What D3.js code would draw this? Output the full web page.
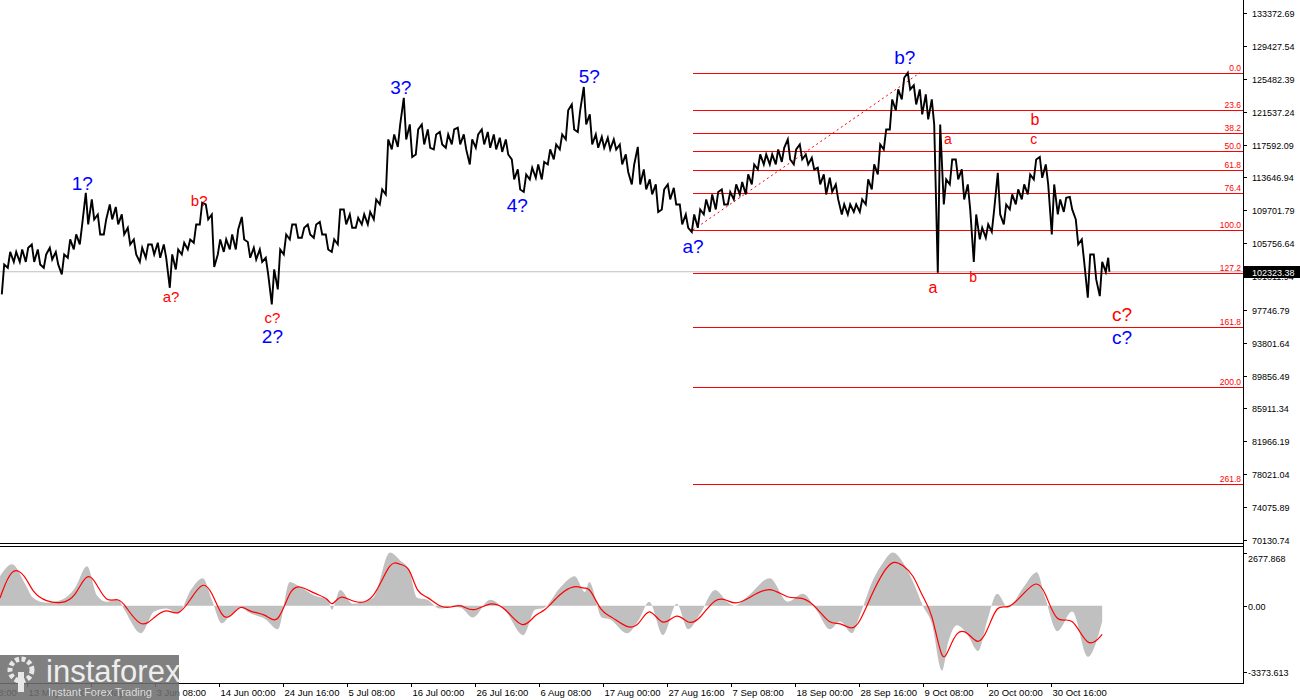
<!DOCTYPE html>
<html><head><meta charset="utf-8">
<script src="https://cdn.jsdelivr.net/npm/d3@7/dist/d3.min.js"></script>
<style>body{margin:0;background:#fff}svg{display:block}</style>
</head><body>
<svg id="c" width="1300" height="700"></svg>
<script>
// ---- data (prices in thousands USD, one entry per day from 8 May 2025 12:00) ----
const startDate = "2025-05-08T12:00:00Z";
const dailyHigh = [
103.2,104.7,104.7,105.0,105.2,105.6,105.0,104.4,105.2,104.7,
104.4,106.2,106.8,108.0,111.8,111.0,109.2,108.6,110.4,110.1,
109.2,107.6,106.2,105.2,105.6,105.6,105.8,105.6,104.4,105.0,
105.8,106.2,108.0,110.6,110.4,109.2,106.2,106.2,106.8,107.4,
108.9,105.9,105.2,105.0,104.0,102.6,105.0,106.8,108.0,108.0,
107.6,108.0,108.0,108.3,106.8,106.2,109.8,109.8,109.2,108.8,
109.2,109.5,111.0,112.2,118.2,118.8,120.0,123.2,120.0,119.4,
120.0,119.4,118.8,119.1,118.8,119.4,119.6,118.8,118.2,118.8,
119.4,119.1,118.8,118.4,118.2,115.8,114.6,114.0,114.8,115.2,
115.5,117.0,117.6,
118.8,121.7,122.4,121.7,124.5,121.2,118.8,118.5,118.4,118.2,
117.6,116.4,115.2,117.3,114.6,113.4,112.8,112.2,112.8,112.4,
110.4,109.2,109.2,109.8,111.0,111.6,111.9,112.2,111.9,112.8,
113.1,114.0,115.2,116.4,116.4,116.4,117.0,117.2,118.2,117.0,
117.6,116.4,116.0,114.8,114.0,113.6,112.8,110.4,110.4,110.4,
111.0,113.4,115.2,117.6,119.4,123.0,124.2,125.6,126.2,124.7,
124.2,123.6,123.0,120.0,113.4,115.8,115.8,114.6,112.8,109.2,
107.6,108.0,109.8,114.2,110.4,111.6,112.2,112.8,114.0,115.8,
116.1,115.2,112.8,111.0,111.2,111.3,108.6,106.2,104.4,104.4,
103.5,104.0];
const dailyLow = [
99.6,102.8,103.5,103.5,103.5,103.5,103.2,102.8,103.8,103.2,
102.0,104.0,105.0,105.6,108.0,108.6,106.8,106.8,108.6,108.0,
106.8,105.6,104.4,103.5,104.0,104.4,104.0,104.0,100.4,102.6,
104.4,105.0,105.8,108.0,108.6,102.9,104.4,104.7,105.0,105.0,
106.2,104.0,103.8,103.5,102.0,98.4,100.2,104.4,106.2,106.4,
106.4,106.8,106.4,106.8,105.0,104.7,105.6,108.0,107.6,107.6,
108.0,108.0,108.6,110.4,111.6,117.0,117.3,118.2,116.1,116.4,
117.6,117.2,117.0,117.6,117.2,117.6,117.6,117.0,115.2,117.2,
117.6,117.2,117.0,116.7,116.4,113.4,112.2,111.9,113.4,113.6,
113.4,115.2,115.8,
117.0,118.2,119.4,119.1,120.0,117.6,117.2,117.2,117.0,117.0,
115.2,114.3,112.8,112.8,112.2,111.6,109.5,109.8,111.0,110.4,
108.0,107.6,107.1,107.6,109.2,109.5,109.8,110.4,110.4,111.0,
111.6,111.6,112.8,114.6,115.2,115.2,115.2,115.5,115.8,115.2,
115.8,115.2,114.6,112.8,111.6,111.9,111.0,109.2,109.2,109.5,
109.5,110.4,112.2,114.0,117.0,119.4,121.7,123.0,124.2,122.4,
121.2,120.6,120.0,102.2,110.4,112.8,113.4,111.0,109.8,103.5,
106.2,106.4,107.1,109.2,108.0,109.8,110.4,111.0,111.6,113.4,
113.6,112.8,106.8,109.2,109.5,109.8,105.6,103.5,99.2,101.4,
99.4,102.3];
const lastPrice = 102323.38;

const priceTicks = ["133372.69","129427.54","125482.39","121537.24","117592.09","113646.94","109701.79","105756.64","101811.94","97746.79","93801.64","89856.49","85911.34","81966.19","78021.04","74075.89","70130.74"];
const oscTicks = ["2677.868","0.00","-3373.613"];
const dateTicks = ["2025-05-02T08:00","2025-05-13T00:00","2025-05-23T16:00","2025-06-03T08:00","2025-06-14T00:00","2025-06-24T16:00","2025-07-05T08:00","2025-07-16T00:00","2025-07-26T16:00","2025-08-06T08:00","2025-08-17T00:00","2025-08-27T16:00","2025-09-07T08:00","2025-09-18T00:00","2025-09-28T16:00","2025-10-09T08:00","2025-10-20T00:00","2025-10-30T16:00"];

// oscillator (days from start)
const oscDay = [0,2,4.2,5.5,7.7,10.3,12.5,14.5,16.2,17.7,
19.7,20.7,23.5,25.7,27.7,29.7,31.8,33.8,35.3,37,
38.3,40.2,41.5,44.3,46.3,48.3,49.8,52.5,54.7,55.3,
56.7,58.8,62.2,65,66.7,68.2,69.5,71.2,73.3,75.3,
76.8,78.8,81.7,84.3,87.2,89.2,90.7,93.3,95.8,97.5,
98.2,100.3,101.7,104.5,106.5,108.2,110.5,112.8,114.7,116.7,
119.2,121.2,122.5,124.7,128.3,131.3,133.8,136.2,138.3,140,
142,143.3,145.5,147.2,148.8,150.5,152.2,153.8,155.3,157,
158,159.5,161.3,163,164.5,166.2,168,170.5,172.8,174.2,
176.2,178.7,181.3,183.7];
const oscSignal = [390,2050,1560,630,200,100,390,1800,1070,150,
390,100,-1220,-590,-100,-590,340,1270,730,-630,
-630,100,-340,-390,-1070,830,1070,590,390,-100,
630,150,100,2390,2050,2050,590,490,-100,-100,
100,-390,240,-100,-1320,-390,-340,630,1070,830,
980,-390,-490,-1170,-1070,100,-1220,-240,-1020,-680,
440,290,50,340,1070,290,490,-100,-980,-830,
-1270,-880,730,1710,2340,2050,1610,390,-240,-2980,
-2340,-1220,-1320,-2050,-1370,150,-240,590,1320,730,
-1070,-390,-2290,-1460];
const oscHist = [1500,2100,1100,400,150,300,900,2000,500,200,
300,-200,-1400,-300,-150,-400,800,1400,300,-900,
-500,-100,-350,-700,-1200,1200,1000,500,300,-200,
800,100,400,2700,2300,1800,400,300,-150,-50,
-100,-600,300,-300,-1500,-200,-100,900,1500,700,
1200,-600,-700,-1400,-700,200,-1500,100,-1200,-400,
800,200,0,500,1400,200,600,-300,-1200,-800,
-1400,-500,1300,2200,2700,2200,1200,0,-900,-3300,
-1900,-1000,-1500,-2300,-800,600,-100,900,1700,400,
-1300,-300,-2600,-800];

// fibonacci grid
const fibLevels = [0,23.6,38.2,50,61.8,76.4,100,127.2,161.8,200,261.8];
const fibHigh = 126190, fibLow = 107330;
const fibStartDay = 115.5, fibHighDay = 153.3;

// wave labels [text, day, price, color, size]
const waveLabels = [
 ["1?",13.7,112100,"#0000ff",19],["2?",45.4,93800,"#0000ff",19],["3?",66.8,123700,"#0000ff",19],
 ["4?",86.2,109500,"#0000ff",19],["5?",98.2,125000,"#0000ff",19],["a?",115.5,104600,"#0000ff",19],
 ["b?",150.8,127200,"#0000ff",19],["c?",187,93600,"#0000ff",19],
 ["a?",28.5,98700,"#ff0000",15],["b?",33.2,110200,"#ff0000",15],["c?",45.4,96200,"#ff0000",15],
 ["a",155.5,99800,"#ff0000",16],["b",162.2,101100,"#ff0000",14],["a",158,117600,"#ff0000",14],
 ["b",172.5,119900,"#ff0000",16],["c",172.3,117700,"#ff0000",14],["c?",187,96400,"#ff0000",19]
];

// ---- drawing ----
const svg = d3.select("#c");
const W = 1243, mainTop = 0, mainBot = 543, oscTop = 546, oscBot = 683;
const t0 = new Date(startDate);
const dayMs = 864e5;
const x = d3.scaleUtc().domain([t0, new Date(+t0 + W*4*3600e3)]).range([0, W]);
const xd = d => x(new Date(+t0 + d*dayMs));
const y = d3.scaleLinear().domain([70130.74, 133372.69]).range([540, 13]);
const yo = d3.scaleLinear().domain([-3373.613, 2677.868]).range([672, 553]);
const font = "'Liberation Sans', Arial, sans-serif";

svg.append("defs").append("clipPath").attr("id","cm").append("rect").attr("x",0).attr("y",0).attr("width",W).attr("height",mainBot);
svg.append("defs").append("clipPath").attr("id","co").append("rect").attr("x",0).attr("y",oscTop).attr("width",W).attr("height",oscBot-oscTop);
svg.append("defs").append("clipPath").attr("id","cx").append("rect").attr("x",0).attr("y",oscBot).attr("width",W).attr("height",20);

const gm = svg.append("g").attr("clip-path","url(#cm)");
gm.append("line").attr("x1",0).attr("x2",W).attr("y1",y(lastPrice)).attr("y2",y(lastPrice)).attr("stroke","#c0c0c0");

fibLevels.forEach(l => {
  const p = fibHigh - (fibHigh - fibLow)*l/100;
  gm.append("line").attr("x1",xd(fibStartDay)).attr("x2",W).attr("y1",Math.round(y(p))+0.5).attr("y2",Math.round(y(p))+0.5).attr("stroke","#ff0000").attr("stroke-width",1);
  gm.append("text").attr("x",W-2).attr("y",Math.round(y(p))-2).attr("text-anchor","end").attr("font-family",font).attr("font-size",8.5).attr("fill","#ff0000").text(l.toFixed(1));
});
gm.append("line").attr("x1",xd(fibStartDay)).attr("y1",y(fibLow)).attr("x2",xd(fibHighDay)).attr("y2",y(fibHigh)).attr("stroke","#ff0000").attr("stroke-dasharray","2,3");

const pts = [];
dailyHigh.forEach((h,i) => {
  const l = dailyLow[i];
  const mid = (h+l)/2;
  const nextMid = i < dailyHigh.length-1 ? (dailyHigh[i+1]+dailyLow[i+1])/2 : mid;
  const up = nextMid >= mid;
  const a = up ? l : h, b = up ? h : l;
  pts.push([i+0.3, a*1000],[i+0.7, b*1000]);
});
pts.push([dailyHigh.length-0.1, lastPrice]);
gm.append("path").attr("d", d3.line().x(d=>xd(d[0])).y(d=>y(d[1]))(pts)).attr("fill","none").attr("stroke","#000").attr("stroke-width",1.9);

waveLabels.forEach(w => {
  gm.append("text").attr("x",xd(w[1])).attr("y",y(w[2])).attr("text-anchor","middle").attr("font-family",font).attr("font-size",w[4]).attr("fill",w[3]).text(w[0]);
});

const go = svg.append("g").attr("clip-path","url(#co)");
const od = oscDay.map((d,i)=>({d, h:oscHist[i], s:oscSignal[i]}));
go.append("path").attr("d", d3.area().x(o=>xd(o.d)).y0(yo(0)).y1(o=>yo(o.h)).curve(d3.curveMonotoneX)(od)).attr("fill","#c0c0c0");
go.append("path").attr("d", d3.line().x(o=>xd(o.d)).y(o=>yo(o.s)).curve(d3.curveBasis)(od)).attr("fill","none").attr("stroke","#ff0000").attr("stroke-width",1.2);

svg.append("line").attr("x1",W+0.5).attr("x2",W+0.5).attr("y1",0).attr("y2",oscBot).attr("stroke","#000");
svg.append("line").attr("x1",0).attr("x2",W).attr("y1",mainBot+0.5).attr("y2",mainBot+0.5).attr("stroke","#000");
svg.append("line").attr("x1",0).attr("x2",W).attr("y1",oscTop+0.5).attr("y2",oscTop+0.5).attr("stroke","#000");
svg.append("line").attr("x1",0).attr("x2",W+1).attr("y1",oscBot+0.5).attr("y2",oscBot+0.5).attr("stroke","#000");

priceTicks.forEach(t => {
  const yy = Math.round(y(+t))+0.5;
  svg.append("line").attr("x1",W).attr("x2",W+4).attr("y1",yy).attr("y2",yy).attr("stroke","#000");
  svg.append("text").attr("x",W+9).attr("y",yy+3).attr("font-family",font).attr("font-size",9).attr("fill","#000").text(t);
});
const ly = Math.round(y(lastPrice));
svg.append("rect").attr("x",W+1).attr("y",ly-6).attr("width",56).attr("height",12).attr("fill","#000");
svg.append("text").attr("x",W+9).attr("y",ly+3.5).attr("font-family",font).attr("font-size",9).attr("fill","#fff").text(lastPrice.toFixed(2));

oscTicks.forEach((t,i) => {
  const yy = Math.round(yo(+t))+0.5;
  svg.append("line").attr("x1",W).attr("x2",W+4).attr("y1",yy).attr("y2",yy).attr("stroke","#000");
  svg.append("text").attr("x",W+5).attr("y",i==0? yy+8 : yy+3).attr("font-family",font).attr("font-size",9).attr("fill","#000").text(t);
});

const fmt = d3.utcFormat("%-d %b %H:%M");
const gx = svg.append("g").attr("clip-path","url(#cx)");
dateTicks.forEach(s => {
  const dt = new Date(s+":00Z");
  const xx = Math.round(x(dt))+0.5;
  gx.append("line").attr("x1",xx).attr("x2",xx).attr("y1",oscBot).attr("y2",oscBot+4).attr("stroke","#000");
  gx.append("text").attr("x",xx+1).attr("y",oscBot+13).attr("font-family",font).attr("font-size",9.5).attr("fill","#000").text(fmt(dt));
});

const wm = svg.append("g");
wm.append("rect").attr("x",0).attr("y",655).attr("width",179).attr("height",45).attr("fill","#6e6e6e").attr("opacity",0.88);
wm.append("circle").attr("cx",21).attr("cy",670).attr("r",11).attr("fill","none").attr("stroke","#e8e8e8").attr("stroke-width",5).attr("stroke-dasharray","4,2.5");
wm.append("rect").attr("x",18).attr("y",672).attr("width",6).attr("height",20).attr("fill","#e8e8e8");
wm.append("text").attr("x",46).attr("y",682).attr("font-family",font).attr("font-size",31).attr("fill","#eeeeee").text("instaforex");
wm.append("text").attr("x",48).attr("y",696).attr("font-family",font).attr("font-size",11).attr("fill","#dddddd").text("Instant Forex Trading");
</script>
</body></html>
